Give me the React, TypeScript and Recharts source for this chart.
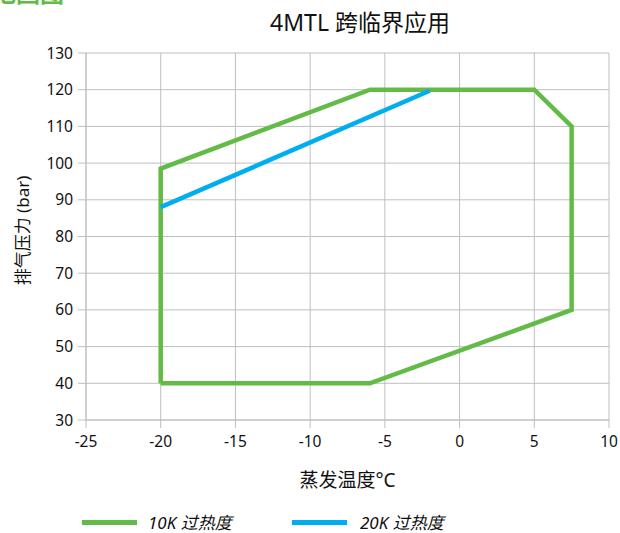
import { CartesianGrid, Label, Line, LineChart, XAxis, YAxis } from "recharts";

const GREEN = "#63bb47";
const BLUE = "#00aeef";
const FONT = '"Noto Sans", "Noto Sans CJK SC", sans-serif';

// 10K 过热度 envelope (evaporating temp, discharge pressure)
const sh10Temp = [-20, -20, -6, 5, 7.5, 7.5, -6, -20];
const sh10Pres = [40, 98.5, 120, 120, 110, 60, 40, 40];

// 20K 过热度 line
const sh20Temp = [-20, -2];
const sh20Pres = [88, 119.7];

const xTicks = [-25, -20, -15, -10, -5, 0, 5, 10];
const yTicks = [30, 40, 50, 60, 70, 80, 90, 100, 110, 120, 130];

const sh10 = sh10Temp.map((t, i) => ({ t, p: sh10Pres[i] }));
const sh20 = sh20Temp.map((t, i) => ({ t, p: sh20Pres[i] }));

function YLabel({ viewBox }: { viewBox?: { x: number; y: number; width: number; height: number } }) {
  if (!viewBox) return null;
  const cx = 22;
  const cy = viewBox.y + viewBox.height / 2 - 6;
  return (
    <text
      x={cx}
      y={cy}
      transform={`rotate(-90, ${cx}, ${cy})`}
      textAnchor="middle"
      dominantBaseline="central"
      fontSize={17}
      fill="#111"
      fontFamily={FONT}
    >
      排气压力 (bar)
    </text>
  );
}

export default function App() {
  return (
    <div
      style={{
        position: "absolute",
        left: 0,
        top: 0,
        width: 620,
        height: 533,
        overflow: "hidden",
        background: "#fff",
        fontFamily: FONT,
      }}
    >
      <div
        style={{
          position: "absolute",
          left: -8,
          top: -26,
          fontSize: 24,
          fontWeight: 700,
          color: GREEN,
          whiteSpace: "nowrap",
        }}
      >
        范围图
      </div>
      <div
        style={{
          position: "absolute",
          left: 0,
          width: 720,
          top: 4,
          textAlign: "center",
          fontSize: 23,
          color: "#111",
        }}
      >
        4MTL 跨临界应用
      </div>

      <LineChart
        width={620}
        height={533}
        margin={{ top: 53, right: 11, left: 40, bottom: 83 }}
        style={{ position: "absolute", left: 0, top: 0 }}
      >
        <CartesianGrid stroke="#bfbfbf" strokeWidth={1} />
        <XAxis
          type="number"
          dataKey="t"
          domain={[-25, 10]}
          ticks={xTicks}
          allowDuplicatedCategory={false}
          stroke="#bfbfbf"
          tickLine={{ stroke: "#bfbfbf" }}
          tickSize={8}
          tickMargin={8}
          tick={{ fill: "#111", fontSize: 15.5, fontFamily: FONT }}
          height={30}
        >
          <Label
            value="蒸发温度°C"
            position="bottom"
            offset={24}
            style={{ fontSize: 19, fill: "#111", fontFamily: FONT }}
          />
        </XAxis>
        <YAxis
          type="number"
          dataKey="p"
          domain={[30, 130]}
          ticks={yTicks}
          stroke="#bfbfbf"
          tickLine={{ stroke: "#bfbfbf" }}
          tickSize={8}
          tickMargin={5}
          tick={{ fill: "#111", fontSize: 15.5, fontFamily: FONT }}
          width={46}
        >
          <Label content={<YLabel />} />
        </YAxis>
        <Line
          data={sh10}
          dataKey="p"
          type="linear"
          stroke={GREEN}
          strokeWidth={4.5}
          strokeLinejoin="miter"
          dot={false}
          isAnimationActive={false}
        />
        <Line
          data={sh20}
          dataKey="p"
          type="linear"
          stroke={BLUE}
          strokeWidth={4.5}
          dot={false}
          isAnimationActive={false}
        />
      </LineChart>

      <div style={{ position: "absolute", top: 509, left: 0, width: 620, height: 24, fontSize: 17, color: "#111" }}>
        <div style={{ position: "absolute", left: 82, top: 11, width: 55, height: 5, background: GREEN }} />
        <div style={{ position: "absolute", left: 148, top: 0, fontStyle: "italic", whiteSpace: "nowrap" }}>10K 过热度</div>
        <div style={{ position: "absolute", left: 292, top: 11, width: 55, height: 5, background: BLUE }} />
        <div style={{ position: "absolute", left: 360, top: 0, fontStyle: "italic", whiteSpace: "nowrap" }}>20K 过热度</div>
      </div>
    </div>
  );
}
